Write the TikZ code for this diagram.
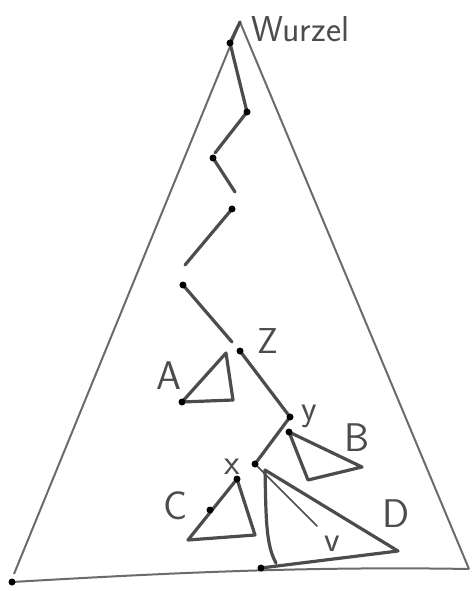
\documentclass[tikz,border=0pt]{standalone}
\usepackage{tikz}
\usetikzlibrary{positioning}
\definecolor{pen}{gray}{0.30}
\definecolor{lpen}{gray}{0.42}

\begin{document}
\begin{tikzpicture}[
		x=1pt, y=-1pt,
		every node/.style={font=\sffamily},
		outline/.style={draw=lpen, line width=2pt, line join=round},
		stroke/.style={draw=pen, line width=3.2pt, line cap=round, line join=round},
		thin/.style={draw=pen, line width=1.5pt, line cap=round},
		blob/.style={circle, fill=black, inner sep=0pt, minimum size=7pt},
		lbl/.style={text=pen, font=\sffamily\fontsize{36}{36}\selectfont},
		big/.style={lbl, font=\sffamily\fontsize{40}{40}\selectfont}
	]
		\useasboundingbox (0,0) rectangle (471,593);

		% outer tree
		\coordinate (top) at (240,22);
		\coordinate (bl) at (14,574);
		\coordinate (bl2) at (12,582);
		\coordinate (br) at (469,569);
		\draw[outline] (bl) -- (top) -- (br);
		\draw[outline] (bl2) .. controls (150,574) and (300,566) .. (br);

		% path from the root
		\coordinate (root) at (230,43);
		\coordinate (p1) at (247,112);
		\coordinate (p2) at (215,153);
		\coordinate (p3) at (213,158);
		\coordinate (p4) at (235,192);
		\coordinate (p5) at (232,209);
		\coordinate (p6) at (185,265);
		\coordinate (p7) at (183,285);
		\coordinate (p8) at (232,342);
		\coordinate (z) at (240,351);
		\coordinate (y) at (290,417);
		\coordinate (w) at (255,464);
		\draw[stroke] (root) -- (top);
		\draw[stroke] (root) -- (p1) -- (p2);
		\draw[stroke] (p3) -- (p4);
		\draw[stroke] (p5) -- (p6);
		\draw[stroke] (p7) -- (p8);
		\draw[stroke] (z) -- (y) -- (w);
		\coordinate (wend) at (317,526);
		\draw[thin] (w) -- (wend);

		% subtrees
		\coordinate (a1) at (226,353);
		\coordinate (a2) at (182,402);
		\coordinate (a3) at (233,400);
		\draw[stroke] (a1) -- (a2) -- (a3) -- cycle;

		\coordinate (b1) at (289,432);
		\coordinate (b2) at (362,467);
		\coordinate (b3) at (308,480);
		\draw[stroke] (b1) -- (b2) -- (b3) -- cycle;

		\coordinate (c1) at (237,479);
		\coordinate (c2) at (188,540);
		\coordinate (c3) at (255,535);
		\coordinate (cx) at (210,510);
		\draw[stroke] (c1) -- (c2) -- (c3) -- cycle;

		\coordinate (d1) at (265,470);
		\coordinate (d2) at (398,551);
		\coordinate (d3) at (276,563);
		\coordinate (d4) at (261,568);
		\draw[stroke] (d3) .. controls (266,545) and (266,520) .. (d1) -- (d2) -- (d4);

		\foreach \p in {root,p1,p3,p5,p7,z,y,w,a2,b1,c1,cx,d4,bl2}
			\node[blob] at (\p) {};

		% labels
		\node[lbl, anchor=base west] (wurzel) at (248,42) {Wurzel};
		\node[lbl] (zl) at (268,341) {Z};
		\node[big] (al) at (169,376) {A};
		\node[lbl] (yl) at (309,416) {y};
		\node[big] (bl) at (357,438) {B};
		\node[lbl] (xl) at (232,467) {x};
		\node[big] (cl) at (176,506) {C};
		\node[big] (dl) at (396,514) {D};
		\node[lbl] (vl) at (332,544) {v};
	\end{tikzpicture}
\end{document}
